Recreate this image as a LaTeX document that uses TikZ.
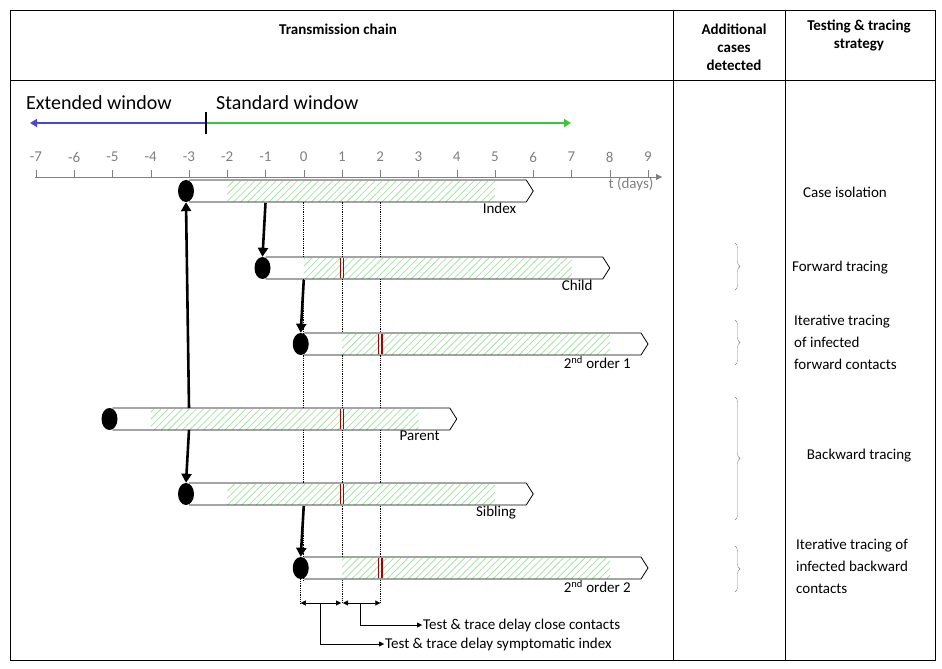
\documentclass[tikz,border=0pt]{standalone}
\usepackage{fontspec}
\setmainfont{Carlito}
\usetikzlibrary{arrows.meta,patterns.meta,shapes.geometric,decorations.pathreplacing}
\newcommand\tx[1]{(36+38.25*(#1+7))}
\begin{document}
\begin{tikzpicture}
[x=1pt,y=-1pt,
  txt/.style={font=\fontsize{15}{17}\selectfont,inner sep=1pt},%
  axisLabel/.style={font=\fontsize{15}{17}\selectfont,text=gray},%
  caseDot/.style={shape=ellipse,fill=black,minimum width=16pt,minimum height=22pt,inner sep=0pt},%
  barLine/.style={draw=black,line width=0.8pt},%
  hatch/.style={pattern={Lines[angle=45,distance=5pt,line width=0.8pt]},pattern color=green!55!gray!45},%
  redMark/.style={draw=red!65!black,line width=1.2pt},%
  chainArrow/.style={line width=2.6pt,-{Triangle[length=9pt,width=10pt]}},%
  delayArrow/.style={{Triangle[length=5pt,width=5pt]}-{Triangle[length=5pt,width=5pt]},thin},%
  calloutArrow/.style={-{Triangle[length=5pt,width=5pt]},thin},%
  braceDecorate/.style={draw=gray,decorate,decoration={brace,amplitude=5pt}}]
\useasboundingbox (0,0) rectangle (942,669);
%%
%% frame and header
\draw[thin] (10,10) rectangle (935,660);
\draw[thin] (10,80) -- (935,80) (673,10) -- (673,660) (785,10) -- (785,660);
\node[txt,font=\fontsize{15}{17}\selectfont\bfseries] (hchain) at (338,29) {Transmission chain};
\node[txt,font=\fontsize{15}{18}\selectfont\bfseries,align=center] (hcases) at (734,47) {Additional\\cases\\detected};
\node[txt,font=\fontsize{15}{18}\selectfont\bfseries,align=center] (hstrat) at (859,35) {Testing \& tracing\\strategy};
%%
%% windows
\coordinate (wl) at (30,123);
\coordinate (wm) at (206,123);
\coordinate (wr) at (571,123);
\draw[line width=2.2pt,color=blue!60!gray!90,-{Triangle[length=7pt,width=8pt]}] (wm) -- (wl);
\draw[line width=2.2pt,color=green!55!gray,-{Triangle[length=7pt,width=8pt]}] (wm) -- (wr);
\draw[line width=1.5pt] (206,112) -- (206,134);
\node[anchor=west,font=\fontsize{20}{22}\selectfont,inner sep=0pt] (ext) at (26,103) {Extended window};
\node[anchor=west,font=\fontsize{20}{22}\selectfont,inner sep=0pt] (std) at (216,103) {Standard window};
%%
%% time axis
\coordinate (ax0) at (35,177);
\coordinate (ax1) at (662,177);
\draw[gray,thin,-{Triangle[length=6pt,width=6pt]}] (ax0) -- (ax1);
\foreach \t in {-7,...,9}
{
  \draw[gray,thin] ({\tx{\t}},177) -- ({\tx{\t}},170);
  \node[axisLabel] (tick\t) at ({\tx{\t}},157) {\t};
}
\node[axisLabel,anchor=east] (tdays) at (657,184) {t (days)};
%%
%% dotted guides
\foreach \t in {0,1,2}
{
  \draw[densely dotted,thick] ({\tx{\t}},180) -- ({\tx{\t}},580);
}
%%
%% cases: name/y/start/hatch from/hatch to/end/label
\foreach \nodename/\y/\s/\ha/\hb/\e/\lab in {
  index/191/-3/-2/5/6/Index,
  child/268/-1/0/7/8/Child,
  ordA/344/0/1/8/9/2\textsuperscript{nd} order 1,
  parent/419/-5/-4/3/4/Parent,
  sibling/494/-3/-2/5/6/Sibling,
  ordB/568/0/1/8/9/2\textsuperscript{nd} order 2}
{
  \path[fill=white] ({\tx{\s}},\y-11) rectangle ({\tx{\e}},\y+11);
  \path[hatch] ({\tx{\ha}},\y-10) rectangle ({\tx{\hb}},\y+10);
  \draw[barLine] ({\tx{\s}},\y-11) -- ({\tx{\e}-7},\y-11) -- ({\tx{\e}},\y)
    -- ({\tx{\e}-7},\y+11) -- ({\tx{\s}},\y+11);
  \node[caseDot] (\nodename) at ({\tx{\s}-3},\y) {};
  \node[txt,anchor=north east] (\nodename-lab) at ({\tx{\e}-16},\y+11) {\lab};
}
\foreach \y/\r in {268/1, 344/2, 419/1, 494/1, 568/2}
{
  \draw[redMark] ({\tx{\r}-1.8},\y-10) -- ({\tx{\r}-1.8},\y+10)
    ({\tx{\r}+1.8},\y-10) -- ({\tx{\r}+1.8},\y+10);
}
%%
%% transmission arrows
\draw[chainArrow] ({\tx{-1}},203) -- (child.north);
\draw[chainArrow] ({\tx{0}},280) -- (ordA.north);
\draw[chainArrow] ({\tx{-3}},408) -- (index.south);
\draw[chainArrow] ({\tx{-3}},430) -- (sibling.north);
\draw[chainArrow] ({\tx{0}},506) -- (ordB.north);
%%
%% delays
\coordinate (d0) at ({\tx{0}},603);
\coordinate (d1) at ({\tx{1}},603);
\coordinate (d2) at ({\tx{2}},603);
\draw[densely dotted,thick] (ordB.south) -- (ordB.south |- d0);
\draw[densely dotted,thick] ({\tx{1}},580) -- (d1) ({\tx{2}},580) -- (d2);
\draw[delayArrow] (ordB.south |- d0) -- ([xshift=-1pt]d1);
\draw[delayArrow] ([xshift=1pt]d1) -- (d2);
\node[txt,anchor=west] (symp) at (384,644) {Test \& trace delay symptomatic index};
\node[txt,anchor=west] (close) at (422,625) {Test \& trace delay close contacts};
\draw[calloutArrow] (320,603) |- (symp.west);
\draw[calloutArrow] (360,603) |- (close.west);
%%
%% strategies
\draw[braceDecorate] (735,243) -- (735,290);
\draw[braceDecorate] (735,320) -- (735,365);
\draw[braceDecorate] (735,397) -- (735,520);
\draw[braceDecorate] (735,546) -- (735,592);
\node[txt] (iso) at (845,192) {Case isolation};
\node[txt] (fwd) at (840,268) {Forward tracing};
\node[txt,anchor=west,align=left,font=\fontsize{15}{22}\selectfont] (itfwd) at (793,342) {Iterative tracing\\of infected\\forward contacts};
\node[txt] (bwd) at (859,456) {Backward tracing};
\node[txt,anchor=west,align=left,font=\fontsize{15}{22}\selectfont] (itbwd) at (795,566) {Iterative tracing of\\infected backward\\contacts};
\end{tikzpicture}
\end{document}
